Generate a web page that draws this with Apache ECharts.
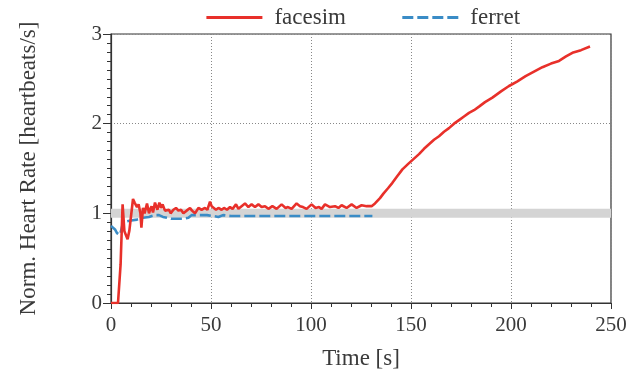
<!DOCTYPE html>
<html>
<head>
<meta charset="utf-8">
<script src="https://cdn.jsdelivr.net/npm/echarts@6/dist/echarts.min.js"></script>
<style>
  html, body { margin: 0; padding: 0; background: #fff; }
  #chart { width: 634px; height: 375px; }
</style>
</head>
<body>
<div id="chart"></div>
<script>
// facesim: [time s, normalised heart rate]
const facesim = [
  [0, 0], [3.5, 0], [4.8, 0.43], [5.8, 1.1], [6.7, 0.8], [7.5, 0.78], [8.3, 0.71], [9.2, 0.81],
  [11, 1.16], [11.8, 1.12], [13, 1.07], [13.8, 1.1], [14.7, 1.0], [15.2, 0.84], [16, 1.06],
  [16.8, 1.0], [18, 1.11], [19, 1.0], [19.7, 1.05], [20.3, 1.08], [21, 1.01], [22, 1.12],
  [23.2, 1.04], [24.2, 1.12], [25, 1.06], [25.8, 1.1], [27, 1.03], [28, 1.05], [29, 1.04],
  [29.8, 1.0], [31.2, 1.04], [32.5, 1.06], [33.7, 1.03], [35, 1.04], [36.2, 1.0], [37.8, 1.03],
  [39.5, 1.06], [40.5, 1.03], [42, 1.0], [43.7, 1.06], [45.3, 1.04], [47, 1.06], [48.2, 1.04],
  [49.5, 1.13], [50.3, 1.08], [51.2, 1.06], [52.5, 1.04], [53.7, 1.06], [55.3, 1.04], [56.5, 1.06],
  [58, 1.04], [59.5, 1.07], [60.8, 1.05], [62.5, 1.10], [63.7, 1.05], [65.3, 1.08], [67, 1.11],
  [68.7, 1.07], [70.3, 1.10], [72, 1.07], [73.7, 1.10], [75.3, 1.07], [77, 1.08], [78.7, 1.05],
  [80.7, 1.08], [82.8, 1.05], [85.3, 1.10], [87.3, 1.06], [88.5, 1.07], [90.3, 1.05], [92.8, 1.11],
  [94.5, 1.08], [96, 1.07], [97.8, 1.05], [100.3, 1.10], [102.3, 1.06], [104, 1.07], [105.3, 1.05],
  [107, 1.10], [109.5, 1.07], [112, 1.08], [113.7, 1.06], [115.3, 1.09], [117.8, 1.06], [120.3, 1.10],
  [122.8, 1.06], [125.3, 1.09], [127.8, 1.08], [130.3, 1.08], [132, 1.11], [134.5, 1.17], [136.2, 1.22],
  [138.5, 1.28], [140.7, 1.34], [143, 1.41], [145.7, 1.49], [149, 1.56], [151.5, 1.61], [154, 1.66],
  [156.5, 1.72], [159, 1.77], [161.5, 1.82], [164, 1.86], [166.5, 1.91], [169, 1.95], [171.5, 2.0],
  [174, 2.04], [176.5, 2.08], [179, 2.12], [181.5, 2.15], [184, 2.19], [187, 2.24], [190.7, 2.29],
  [195, 2.36], [199, 2.42], [203, 2.47], [207.3, 2.53], [211.5, 2.58], [215.7, 2.63], [220, 2.67],
  [224, 2.70], [227.5, 2.75], [230.7, 2.79], [235, 2.82], [239.5, 2.86]
];

// ferret: [time s, normalised heart rate]
const ferret = [
  [0, 0.86], [1, 0.86], [2, 0.82], [3, 0.78], [4.3, 0.76], [5, 0.8], [6, 0.9], [8, 0.91],
  [10, 0.92], [13, 0.93], [16, 0.95], [19, 0.96], [22, 0.98], [24, 0.98], [26, 0.96], [28, 0.95],
  [30, 0.94], [33, 0.94], [36, 0.94], [38.7, 0.95], [40.3, 0.98], [44.5, 0.98], [48, 0.98],
  [51, 0.97], [53.7, 0.96], [56, 0.98], [60, 0.97], [70, 0.97], [80, 0.97], [90, 0.97],
  [100, 0.97], [110, 0.97], [120, 0.97], [130.7, 0.97]
];

// target band around 1.0
const bandLow = 0.95;
const bandHigh = 1.05;

const xTicks = { min: 0, max: 250, interval: 50 };
const yTicks = { min: 0, max: 3, interval: 1 };

const font = 'Liberation Serif';
const textColor = '#3a3a3a';

const chart = echarts.init(document.getElementById('chart'), null, { renderer: 'canvas' });

chart.setOption({
  animation: false,
  backgroundColor: '#fff',
  textStyle: { fontFamily: font },
  grid: {
    left: 111, right: 23, top: 34, bottom: 71,
    show: true, borderColor: '#333', borderWidth: 1.2, backgroundColor: 'transparent'
  },
  legend: {
    top: 1,
    left: 200,
    itemWidth: 56,
    itemHeight: 14,
    itemGap: 55,
    itemStyle: { opacity: 0 },
    lineStyle: { width: 2.8 },
    textStyle: { fontFamily: font, fontSize: 23, color: textColor, padding: [0, 0, 0, 7] },
    data: ['facesim', 'ferret']
  },
  xAxis: {
    type: 'value',
    min: xTicks.min, max: xTicks.max, interval: xTicks.interval,
    name: 'Time [s]',
    nameLocation: 'middle',
    nameGap: 44,
    nameTextStyle: { fontFamily: font, fontSize: 23, color: textColor },
    axisLine: { onZero: false, lineStyle: { color: '#333', width: 1.2 } },
    axisTick: { length: 6, lineStyle: { color: '#333' } },
    minorTick: { show: true, splitNumber: 5, length: 4, lineStyle: { color: '#333' } },
    axisLabel: { fontFamily: font, fontSize: 21, color: textColor, margin: 12 },
    splitLine: { show: true, lineStyle: { color: '#888', type: [1, 2], width: 1 } }
  },
  yAxis: {
    type: 'value',
    min: yTicks.min, max: yTicks.max, interval: yTicks.interval,
    name: 'Norm. Heart Rate [heartbeats/s]',
    nameLocation: 'middle',
    nameGap: 71,
    nameTextStyle: { fontFamily: font, fontSize: 23, color: textColor },
    axisLine: { show: true, lineStyle: { color: '#333', width: 1.2 } },
    axisTick: { show: true, length: 8, lineStyle: { color: '#333' } },
    minorTick: { show: true, splitNumber: 10, length: 4, lineStyle: { color: '#333' } },
    axisLabel: { fontFamily: font, fontSize: 21, color: textColor, margin: 9 },
    splitLine: { show: true, lineStyle: { color: '#888', type: [1, 2], width: 1 } }
  },
  series: [
    {
      name: 'ferret',
      type: 'line',
      data: ferret,
      symbol: 'none',
      z: 3,
      lineStyle: { color: '#3a8cc6', width: 2.6, type: [11, 4] },
      itemStyle: { color: '#3a8cc6' },
      markArea: {
        silent: true,
        itemStyle: { color: '#d4d4d4' },
        data: [[{ yAxis: bandLow }, { yAxis: bandHigh }]]
      }
    },
    {
      name: 'facesim',
      type: 'line',
      data: facesim,
      symbol: 'none',
      z: 4,
      lineStyle: { color: '#e8302a', width: 2.6 },
      itemStyle: { color: '#e8302a' }
    }
  ]
});
</script>
</body>
</html>
